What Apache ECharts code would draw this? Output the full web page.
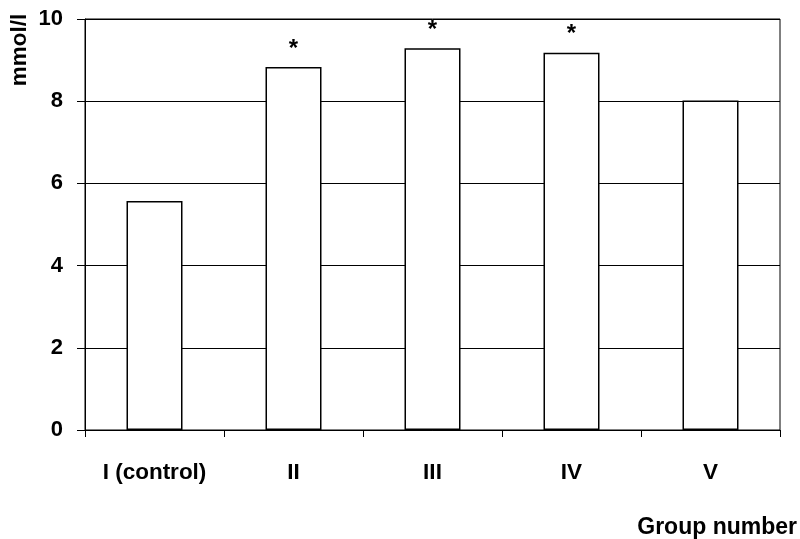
<!DOCTYPE html>
<html>
<head>
<meta charset="utf-8">
<script src="https://cdn.jsdelivr.net/npm/echarts@6/dist/echarts.min.js"></script>
<style>
  html, body { margin: 0; padding: 0; background: #fff; }
  #chart { width: 800px; height: 539px; }
</style>
</head>
<body>
<div id="chart"></div>
<script>
// Group means (mmol/l) and significance markers
const groups = ['I (control)', 'II', 'III', 'IV', 'V'];
const values = [5.57, 8.83, 9.29, 9.18, 8.02];
const marks = ['', '*', '*', '*', ''];
const yTicks = [0, 2, 4, 6, 8, 10];

const FONT = '"Liberation Sans", Arial, sans-serif';
const SIZE = 22.5;

const chart = echarts.init(document.getElementById('chart'), null, { renderer: 'canvas' });

chart.setOption({
  animation: false,
  backgroundColor: '#ffffff',
  grid: {
    left: 85, right: 20, top: 19, bottom: 109,
    show: true, borderColor: '#000', borderWidth: 1, backgroundColor: 'transparent'
  },
  xAxis: {
    type: 'category',
    data: groups,
    axisLine: { lineStyle: { color: '#000', width: 1 } },
    axisTick: { show: true, length: 7, lineStyle: { color: '#000' } },
    axisLabel: { color: '#000', fontFamily: FONT, fontWeight: 'bold', fontSize: SIZE, margin: 31 }
  },
  yAxis: {
    type: 'value',
    min: yTicks[0],
    max: yTicks[yTicks.length - 1],
    interval: 2,
    axisLine: { show: true, lineStyle: { color: '#000', width: 1 } },
    axisTick: { show: true, length: 8, lineStyle: { color: '#000' } },
    axisLabel: { color: '#000', fontFamily: FONT, fontWeight: 'bold', fontSize: 22, margin: 22 },
    splitLine: { show: true, lineStyle: { color: '#000', width: 1 } }
  },
  graphic: [
    {
      type: 'text',
      x: 20, y: 50,
      rotation: Math.PI / 2,
      style: {
        text: 'mmol/l',
        font: 'bold ' + SIZE + 'px ' + FONT,
        fill: '#000',
        align: 'center',
        verticalAlign: 'middle'
      }
    },
    {
      type: 'text',
      right: 3, top: 516,
      style: {
        text: 'Group number',
        font: 'bold 23px ' + FONT,
        fill: '#000'
      }
    }
  ],
  series: [{
    type: 'bar',
    barWidth: 56,
    data: values.map((v, i) => ({
      value: v,
      label: {
        show: marks[i] !== '',
        formatter: marks[i],
        position: 'top',
        distance: 6,
        color: '#000',
        fontFamily: FONT,
        fontWeight: 'bold',
        fontSize: 24
      }
    })),
    itemStyle: { color: '#fff', borderColor: '#000', borderWidth: 1.5 }
  }]
});
</script>
</body>
</html>
